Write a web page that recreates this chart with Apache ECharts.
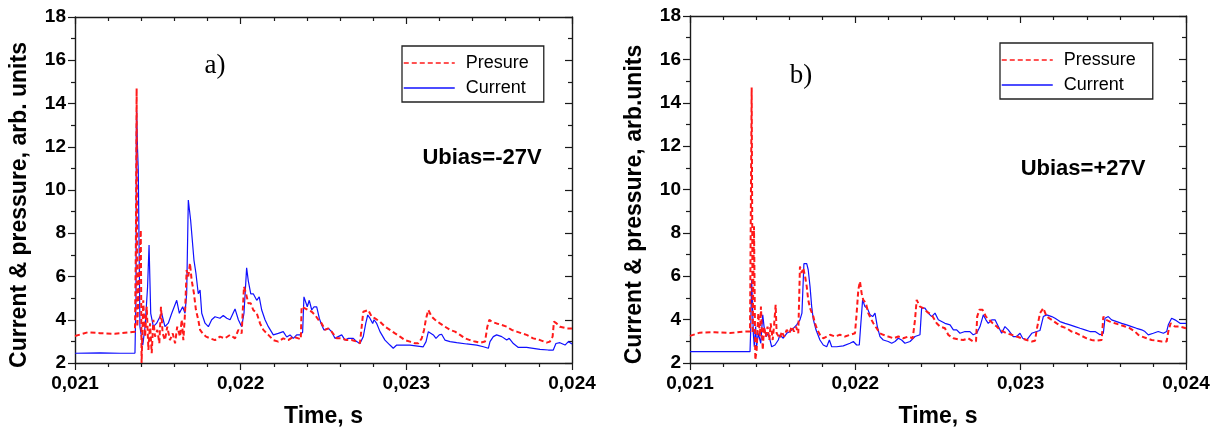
<!DOCTYPE html>
<html>
<head>
<meta charset="utf-8">
<script src="https://cdn.jsdelivr.net/npm/echarts@6/dist/echarts.min.js"></script>
<style>
  html, body { margin: 0; padding: 0; background: #fff; }
  #chart { width: 1219px; height: 433px; }
</style>
</head>
<body>
<div id="chart"></div>
<script>
// Time in microseconds, signal in arbitrary units.
// Panel a) Ubias = -27 V
const currentA = [
  [21000,2.45],[21151,2.47],[21272,2.45],[21362,2.46],[21368,5.0],[21370,12.5],[21372,13.7],[21377,12.0],[21382,10.9],[21392,3.68],
  [21409,2.83],[21423,3.68],[21438,5.5],[21447,7.46],[21457,4.3],[21473,3.68],[21493,3.84],[21523,4.3],[21543,3.68],[21563,3.84],
  [21584,4.3],[21614,4.9],[21630,4.3],[21650,4.6],[21664,4.3],[21674,5.2],[21684,9.54],[21698,8.6],[21710,8.6],[21718,6.76],
  [21730,6.15],[21744,5.2],[21755,5.37],[21765,4.3],[21785,3.84],[21805,3.68],[21825,4.0],[21845,4.14],[21875,4.07],[21895,4.2],
  [21916,4.07],[21936,4.0],[21966,4.5],[21986,4.0],[22006,3.68],[22020,4.3],[22036,6.4],[22046,5.8],[22061,5.2],[22076,5.2],
  [22097,4.9],[22112,5.06],[22127,4.45],[22147,4.0],[22167,3.68],[22197,3.3],[22227,3.37],[22257,3.45],[22278,3.2],[22298,3.3],
  [22318,3.14],[22338,3.3],[22358,3.3],[22374,3.42],[22382,5.06],[22394,5.1],[22402,4.6],[22414,4.9],[22429,4.45],[22443,4.6],
  [22459,4.6],[22475,4.06],[22489,3.76],[22503,3.53],[22529,3.6],[22549,3.45],[22569,3.14],[22589,3.22],[22610,3.3],[22630,3.06],
  [22650,3.14],[22680,3.14],[22700,2.99],[22720,2.9],[22740,3.22],[22755,3.83],[22767,4.22],[22781,4.06],[22797,3.83],[22805,4.0],
  [22821,3.83],[22841,3.45],[22871,3.06],[22901,2.83],[22921,2.68],[22942,2.83],[23022,2.83],[23102,2.75],[23119,2.99],[23133,3.45],
  [23143,3.53],[23163,3.3],[23179,3.14],[23199,3.3],[23213,3.33],[23233,3.06],[23264,2.99],[23304,2.94],[23364,2.88],[23425,2.83],
  [23465,2.75],[23495,2.68],[23505,2.99],[23525,3.22],[23545,3.3],[23576,3.22],[23606,3.06],[23621,3.14],[23646,2.9],[23676,2.72],
  [23726,2.72],[23766,2.68],[23807,2.63],[23857,2.6],[23887,2.6],[23903,2.9],[23927,2.94],[23958,2.83],[23978,2.99],[24000,2.88]
];
const pressureA = [
  [21000,3.25],[21078,3.42],[21151,3.38],[21241,3.35],[21332,3.42],[21362,3.45],[21368,8.0],[21372,14.7],[21376,3.68],[21386,3.7],
  [21397,8.15],[21402,2.0],[21412,4.9],[21423,3.22],[21433,4.6],[21443,2.6],[21453,3.83],[21463,2.45],[21473,4.0],[21483,3.22],
  [21497,3.53],[21509,2.91],[21519,4.6],[21529,3.37],[21543,3.06],[21557,3.68],[21573,3.06],[21590,3.37],[21604,2.91],[21617,3.68],
  [21634,3.22],[21644,4.0],[21654,3.06],[21664,4.3],[21674,6.3],[21684,6.0],[21694,6.61],[21704,5.84],[21718,5.22],[21730,4.45],
  [21744,4.0],[21755,3.53],[21771,3.37],[21791,3.22],[21815,3.14],[21845,3.06],[21875,3.22],[21905,3.14],[21936,3.3],[21966,3.14],
  [21986,3.53],[22006,3.37],[22020,5.53],[22032,5.22],[22046,4.76],[22061,4.76],[22076,4.45],[22097,4.3],[22117,3.83],[22137,3.53],
  [22167,3.3],[22197,3.06],[22227,2.99],[22257,3.14],[22287,3.06],[22318,3.22],[22348,3.14],[22363,3.1],[22368,4.6],[22388,4.53],
  [22408,4.45],[22429,4.37],[22449,4.22],[22469,4.0],[22489,3.83],[22509,3.53],[22529,3.6],[22549,3.45],[22580,3.14],[22610,3.14],
  [22640,3.06],[22670,3.06],[22700,2.99],[22720,2.91],[22730,2.95],[22740,4.37],[22750,4.37],[22770,4.45],[22791,4.14],[22811,4.06],
  [22841,3.91],[22871,3.68],[22901,3.53],[22932,3.37],[22962,3.22],[22992,3.06],[23022,2.99],[23052,2.91],[23072,2.91],[23093,3.14],
  [23107,3.53],[23119,4.06],[23133,4.45],[23153,4.14],[23173,4.0],[23203,3.83],[23233,3.68],[23264,3.53],[23294,3.45],[23324,3.3],
  [23354,3.14],[23384,3.06],[23414,2.99],[23445,2.94],[23475,2.99],[23489,3.68],[23501,4.0],[23515,3.91],[23545,3.83],[23576,3.76],
  [23606,3.68],[23636,3.53],[23666,3.45],[23696,3.37],[23726,3.3],[23766,3.14],[23807,3.06],[23847,2.94],[23867,2.99],[23883,3.22],
  [23891,3.91],[23907,3.83],[23927,3.68],[23968,3.6],[24000,3.6]
];

// Panel b) Ubias = +27 V
const currentB = [
  [21000,2.52],[21363,2.52],[21367,3.5],[21373,5.84],[21383,3.37],[21389,2.75],[21397,3.68],[21403,2.75],[21413,3.37],[21428,2.91],
  [21440,4.22],[21448,3.68],[21460,3.22],[21474,3.37],[21494,2.75],[21514,2.83],[21534,3.06],[21544,3.3],[21564,3.14],[21585,3.37],
  [21605,3.45],[21625,3.6],[21645,3.76],[21665,3.99],[21677,4.3],[21689,6.58],[21706,6.58],[21715,6.3],[21726,5.53],[21736,4.6],
  [21746,4.0],[21762,3.53],[21786,3.06],[21806,2.83],[21827,2.75],[21843,3.06],[21857,2.75],[21887,2.75],[21927,2.79],[21968,2.91],
  [21988,2.99],[22008,2.83],[22024,2.83],[22032,3.68],[22044,4.91],[22058,4.6],[22072,4.53],[22089,4.22],[22105,4.14],[22119,4.3],
  [22133,3.68],[22149,3.22],[22169,3.06],[22199,2.99],[22220,2.91],[22240,2.99],[22260,3.14],[22280,3.06],[22300,2.91],[22331,2.99],
  [22361,3.22],[22391,3.3],[22401,4.53],[22421,4.53],[22441,4.3],[22462,4.14],[22482,4.3],[22502,3.99],[22512,3.91],[22542,3.83],
  [22573,3.76],[22593,3.53],[22613,3.53],[22633,3.37],[22663,3.45],[22693,3.45],[22713,3.3],[22734,3.37],[22754,3.68],[22774,4.22],
  [22790,3.99],[22804,3.83],[22825,3.99],[22845,3.99],[22865,3.68],[22885,3.37],[22905,3.68],[22925,3.53],[22955,3.22],[22976,3.22],
  [22996,3.37],[23012,3.14],[23036,3.06],[23067,3.37],[23097,3.45],[23117,3.5],[23137,4.14],[23157,4.22],[23188,4.14],[23208,4.06],
  [23238,3.91],[23268,3.83],[23298,3.76],[23329,3.68],[23359,3.6],[23389,3.53],[23419,3.45],[23450,3.45],[23480,3.3],[23500,3.37],
  [23510,4.06],[23530,4.14],[23550,3.99],[23581,3.91],[23611,3.83],[23641,3.76],[23671,3.68],[23701,3.6],[23732,3.53],[23752,3.45],
  [23772,3.3],[23802,3.37],[23832,3.45],[23863,3.37],[23883,3.45],[23893,3.76],[23913,4.06],[23933,3.99],[23964,3.83],[24000,3.83]
];
const pressureB = [
  [21000,3.25],[21060,3.4],[21151,3.42],[21242,3.38],[21333,3.45],[21363,3.45],[21373,14.7],[21379,3.37],[21387,8.3],[21395,2.14],
  [21403,2.6],[21413,4.3],[21423,3.22],[21429,4.6],[21440,2.6],[21448,3.68],[21458,3.22],[21469,3.68],[21480,3.06],[21488,3.83],
  [21500,3.06],[21508,3.68],[21518,4.68],[21524,3.37],[21534,3.37],[21544,3.14],[21555,3.45],[21569,3.22],[21585,3.53],[21601,3.37],
  [21615,3.68],[21629,3.45],[21641,3.68],[21655,3.37],[21665,6.45],[21675,6.15],[21685,6.38],[21696,6.0],[21706,5.53],[21715,4.91],
  [21726,4.53],[21736,4.6],[21746,4.14],[21756,3.83],[21770,3.53],[21786,3.3],[21806,3.14],[21827,3.22],[21847,3.3],[21877,3.22],
  [21907,3.3],[21937,3.22],[21968,3.3],[21998,3.37],[22008,4.3],[22018,5.38],[22028,5.76],[22038,5.22],[22048,4.91],[22064,4.76],
  [22078,4.3],[22093,4.06],[22109,3.83],[22129,3.6],[22149,3.37],[22169,3.3],[22199,3.22],[22230,3.14],[22260,3.22],[22290,3.14],
  [22320,3.22],[22347,3.14],[22361,3.99],[22371,4.91],[22391,4.6],[22411,4.53],[22432,4.37],[22462,4.22],[22492,3.83],[22512,3.68],
  [22542,3.6],[22562,3.3],[22593,3.14],[22623,3.09],[22653,3.06],[22683,3.14],[22713,2.99],[22730,3.0],[22737,4.14],[22750,4.45],
  [22770,4.45],[22790,4.14],[22810,3.99],[22831,3.83],[22855,3.68],[22875,3.53],[22895,3.45],[22915,3.37],[22945,3.3],[22976,3.22],
  [23006,3.14],[23036,3.06],[23067,2.99],[23087,3.03],[23097,3.53],[23117,4.3],[23137,4.53],[23157,4.14],[23188,3.99],[23218,3.83],
  [23248,3.68],[23278,3.6],[23308,3.45],[23339,3.37],[23369,3.25],[23399,3.14],[23429,3.06],[23460,3.03],[23490,3.06],[23500,4.14],
  [23516,3.99],[23540,3.91],[23571,3.83],[23601,3.76],[23631,3.68],[23661,3.6],[23691,3.45],[23711,3.3],[23732,3.22],[23762,3.14],
  [23792,3.06],[23822,3.03],[23853,2.99],[23883,2.99],[23893,3.45],[23907,3.83],[23933,3.68],[23964,3.68],[24000,3.6]
];

const timeRange = [0.021, 0.024];
const timeStep = 0.001;
const signalRange = [2, 18];
const signalStep = 2;

const FONT = 'Liberation Sans, Arial, Helvetica, sans-serif';
const RED = '#ff1a1a';
const BLUE = '#1010ff';
const FRAME = '#1a1a1a';

const toSeconds = pts => pts.map(p => [p[0] * 1e-6, p[1]]);
const timeLabel = v => v.toFixed(3).replace('.', ',');

function bottomAxis(grid) {
  return {
    type: 'value', gridIndex: grid, position: 'bottom',
    min: timeRange[0], max: timeRange[1], interval: timeStep,
    name: 'Time, s', nameLocation: 'middle', nameGap: 42,
    nameTextStyle: { fontFamily: FONT, fontWeight: 'bold', fontSize: 23, color: '#000' },
    axisLine: { lineStyle: { color: FRAME, width: 1.4 } },
    axisTick: { inside: false, length: 7, lineStyle: { color: FRAME, width: 1.2 } },
    minorTick: { show: true, splitNumber: 5, length: 4, lineStyle: { color: FRAME, width: 1.2 } },
    axisLabel: { formatter: timeLabel, margin: 11, fontFamily: FONT, fontWeight: 'bold', fontSize: 19, color: '#000' },
    splitLine: { show: false }
  };
}
function topAxis(grid) {
  return {
    type: 'value', gridIndex: grid, position: 'top',
    min: timeRange[0], max: timeRange[1], interval: timeStep,
    axisLine: { lineStyle: { color: FRAME, width: 1.4 } },
    axisTick: { inside: true, length: 7, lineStyle: { color: FRAME, width: 1.2 } },
    minorTick: { show: true, splitNumber: 5, length: 4, lineStyle: { color: FRAME, width: 1.2 } },
    axisLabel: { show: false },
    splitLine: { show: false }
  };
}
function leftAxis(grid, title, pad) {
  return {
    type: 'value', gridIndex: grid, position: 'left',
    min: signalRange[0], max: signalRange[1], interval: signalStep,
    name: title, nameLocation: 'middle', nameGap: 44, nameRotate: 90,
    nameTextStyle: { fontFamily: FONT, fontWeight: 'bold', fontSize: 23, color: '#000', padding: pad },
    axisLine: { lineStyle: { color: FRAME, width: 1.4 } },
    axisTick: { inside: false, length: 7, lineStyle: { color: FRAME, width: 1.2 } },
    minorTick: { show: true, splitNumber: 2, length: 4, lineStyle: { color: FRAME, width: 1.2 } },
    axisLabel: { margin: 9, fontFamily: FONT, fontWeight: 'bold', fontSize: 19, color: '#000' },
    splitLine: { show: false }
  };
}
function rightAxis(grid) {
  return {
    type: 'value', gridIndex: grid, position: 'right',
    min: signalRange[0], max: signalRange[1], interval: signalStep,
    axisLine: { lineStyle: { color: FRAME, width: 1.4 } },
    axisTick: { inside: true, length: 7, lineStyle: { color: FRAME, width: 1.2 } },
    minorTick: { show: true, splitNumber: 2, length: 4, lineStyle: { color: FRAME, width: 1.2 } },
    axisLabel: { show: false },
    splitLine: { show: false }
  };
}

function pressureSeries(name, data, idx) {
  return {
    name, type: 'line', xAxisIndex: idx, yAxisIndex: idx,
    data: toSeconds(data), symbol: 'none', animation: false, z: 3,
    lineStyle: { color: RED, width: 2, type: [5, 3] }, itemStyle: { color: RED }
  };
}
function currentSeries(name, data, idx) {
  return {
    name, type: 'line', xAxisIndex: idx, yAxisIndex: idx,
    data: toSeconds(data), symbol: 'none', animation: false, z: 2,
    lineStyle: { color: BLUE, width: 1.2 }, itemStyle: { color: BLUE }
  };
}

function legendBox(names, left, top, padRight) {
  return {
    data: names, orient: 'vertical', left, top,
    padding: [8, padRight, 5, 1], itemGap: 7,
    itemWidth: 51, itemHeight: 14,
    borderColor: '#222', borderWidth: 1.3, borderRadius: 0,
    backgroundColor: '#fff',
    lineStyle: { width: 1.5 },
    itemStyle: { opacity: 0, borderWidth: 0 },
    selectedMode: false,
    textStyle: { fontFamily: FONT, fontSize: 18, color: '#000', padding: [0, 0, 0, 6] }
  };
}

function label(text, x, y, font) {
  return {
    type: 'text', x, y, z: 10,
    style: { text, font, fill: '#000', align: 'center', verticalAlign: 'middle' }
  };
}

const chart = echarts.init(document.getElementById('chart'), null, { renderer: 'canvas' });
chart.setOption({
  backgroundColor: '#fff',
  animation: false,
  grid: [
    { left: 75, top: 17, width: 497, height: 346 },
    { left: 690, top: 16, width: 496, height: 347 }
  ],
  xAxis: [bottomAxis(0), bottomAxis(1), topAxis(0), topAxis(1)],
  yAxis: [
    leftAxis(0, 'Current & pressure, arb. units', [0, 30, 0, 0]),
    leftAxis(1, 'Current & pressure, arb.units', [0, 30, 0, 0]),
    rightAxis(0), rightAxis(1)
  ],
  legend: [
    legendBox(['Presure', 'Current'], 402, 46, 15),
    legendBox(['Pressure', 'Current'], 1000, 43, 17)
  ],
  series: [
    pressureSeries('Presure', pressureA, 0),
    currentSeries('Current', currentA, 0),
    pressureSeries('Pressure', pressureB, 1),
    currentSeries('Current', currentB, 1)
  ],
  graphic: [
    label('a)', 215, 66, '27px "Liberation Serif", "Times New Roman", serif'),
    label('b)', 801, 76, '27px "Liberation Serif", "Times New Roman", serif'),
    label('Ubias=-27V', 482, 158, 'bold 22px ' + FONT),
    label('Ubias=+27V', 1083, 169, 'bold 22px ' + FONT)
  ]
});
</script>
</body>
</html>
